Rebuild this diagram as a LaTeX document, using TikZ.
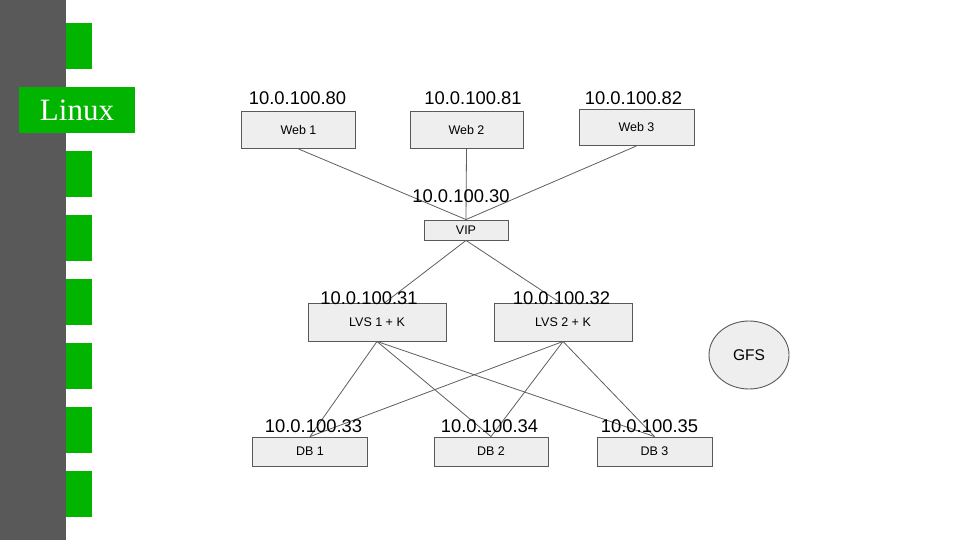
\documentclass[tikz,border=0pt]{standalone}
\usepackage{fontspec}
\setmainfont{Liberation Sans}
\newfontfamily\serifface{Liberation Serif}
\usetikzlibrary{shapes.geometric,calc}
\definecolor{bargray}{HTML}{595959}
\definecolor{linuxgreen}{HTML}{00B400}
\definecolor{boxfill}{HTML}{EEEEEE}
\definecolor{boxline}{HTML}{595959}
\definecolor{wire}{HTML}{5F5F5F}
\begin{document}
\begin{tikzpicture}[x=1pt,y=-1pt,
  box/.style={draw=boxline,fill=boxfill,line width=0.9pt,rectangle,inner sep=0pt,
    font=\fontsize{12.5}{14}\selectfont,anchor=center},
  ip/.style={font=\fontsize{18.4}{20}\selectfont,inner sep=0pt,anchor=base},
  wireline/.style={draw=wire,line width=0.8pt},
  greensq/.style={fill=linuxgreen}]
\useasboundingbox (0,0) rectangle (960,540);
\fill[white] (0,0) rectangle (960,540);
% left bar
\fill[bargray] (0,0) rectangle (66,540);
\foreach \k in {0,2,3,4,5,6,7} {
  \fill[greensq] (66,{23+64*\k}) rectangle (92,{69+64*\k});
}
\node[fill=linuxgreen,minimum width=116pt,minimum height=46pt,inner sep=0pt,
  text=white,font=\serifface\fontsize{31}{34}\selectfont] (linux) at (77,110.5) {Linux};
% boxes
\node[box,minimum width=114pt,minimum height=37pt] (web1) at (298.5,130) {\raisebox{-1pt}{Web 1}};
\node[box,minimum width=113pt,minimum height=37pt] (web2) at (466.5,130) {\raisebox{-1pt}{Web 2}};
\node[box,minimum width=115pt,minimum height=36pt] (web3) at (636.5,127.5) {\raisebox{-1pt}{Web 3}};
\node[box,minimum width=84pt,minimum height=20pt] (vip) at (466,230) {\raisebox{-1pt}{VIP}};
\node[box,minimum width=138pt,minimum height=38pt] (lvs1) at (377,322) {\raisebox{-1pt}{LVS 1 + K}};
\node[box,minimum width=138pt,minimum height=38pt] (lvs2) at (563,322) {\raisebox{-1pt}{LVS 2 + K}};
\node[box,minimum width=115pt,minimum height=29pt] (db1) at (310,451.5) {\raisebox{-1pt}{DB 1}};
\node[box,minimum width=114pt,minimum height=29pt] (db2) at (491,451.5) {\raisebox{-1pt}{DB 2}};
\node[box,minimum width=115pt,minimum height=29pt] (db3) at (654.5,451.5) {\raisebox{-1pt}{DB 3}};
\node[ellipse,draw=boxline,fill=boxfill,line width=0.9pt,inner sep=0pt,
  minimum width=80pt,minimum height=68pt,font=\fontsize{15.5}{18}\selectfont] (gfs) at (749,355) {GFS};
% connectors
\draw[wireline] (web1.south) -- (vip.north);
\draw[wireline] (web2.south) -- (vip.north);
\draw[wireline] (web3.south) -- (vip.north);
\coordinate (lvs1in) at ($(lvs1.north)+(8,0)$);
\coordinate (lvs2in) at ($(lvs2.north)+(-3,0)$);
\draw[wireline] (vip.south) -- (lvs1in);
\draw[wireline] (vip.south) -- (lvs2in);
\foreach \d in {db1,db2,db3} {
  \draw[wireline] (lvs1.south) -- (\d.north);
  \draw[wireline] (lvs2.south) -- (\d.north);
}
% ip labels
\node[ip] (ip80) at (297.5,105) {10.0.100.80};
\node[ip] (ip81) at (473,105) {10.0.100.81};
\node[ip] (ip82) at (633.5,105) {10.0.100.82};
\node[ip] (ip30) at (461,202.5) {10.0.100.30};
\node[ip] (ip31) at (369,304) {10.0.100.31};
\node[ip] (ip32) at (561.5,304) {10.0.100.32};
\node[ip] (ip33) at (313.5,432.5) {10.0.100.33};
\node[ip] (ip34) at (489.5,432.5) {10.0.100.34};
\node[ip] (ip35) at (649.5,432.5) {10.0.100.35};
\end{tikzpicture}
\end{document}
